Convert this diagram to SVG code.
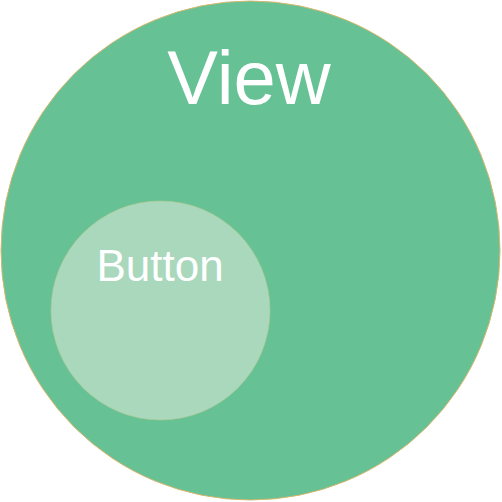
<svg xmlns="http://www.w3.org/2000/svg" width="502" height="502" viewBox="0 0 502 502">
<style>
.lbl{font-family:"Liberation Sans",Arial,sans-serif;fill:#ffffff;text-anchor:middle}
</style>
<rect width="502" height="502" fill="#ffffff"/>
<g id="view">
<circle cx="250.5" cy="250.5" r="249.5" fill="#66c194" stroke="#d6b86e" stroke-width="1"/>
<text class="lbl" x="249" y="104" font-size="76">View</text>
</g>
<g id="button">
<circle cx="160.5" cy="310.5" r="109.5" fill="#a9d8bc" stroke="#b5c98f" stroke-width="0.6"/>
<text class="lbl" x="160" y="281" font-size="44">Button</text>
</g>
<g id="connectors"/>
</svg>
